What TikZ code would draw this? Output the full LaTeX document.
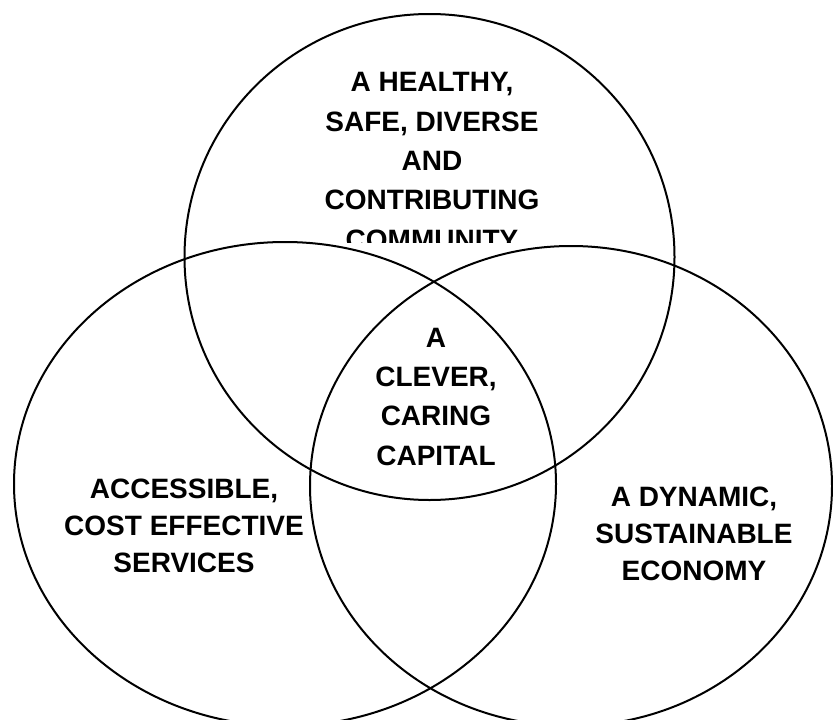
\documentclass[tikz,border=0pt]{standalone}
\usepackage{fontspec}
\setmainfont{Liberation Sans}
\begin{document}
\begin{tikzpicture}[x=1pt,y=-1pt,
  ring/.style={draw=black,line width=2pt},
  lbl/.style={font=\fontsize{28}{39.3}\selectfont\bfseries,align=center,inner sep=0pt,anchor=base},
  lblside/.style={lbl,font=\fontsize{28}{37}\selectfont\bfseries}]
\useasboundingbox[fill=white] (0,0) rectangle (833,720);
\draw[ring] (429.5,257) ellipse [x radius=245pt, y radius=243pt];
\draw[ring] (285,484) ellipse [x radius=271pt, y radius=242pt];
\draw[ring] (571,486) ellipse [x radius=261pt, y radius=240pt];
\begin{scope}
\clip (0,0) rectangle (833,242);
\node[lbl] (top) at (432,249) {A HEALTHY,\\SAFE, DIVERSE\\AND\\CONTRIBUTING\\COMMUNITY};
\end{scope}
\node[lbl] (mid) at (436,465) {A\\CLEVER,\\CARING\\CAPITAL};
\node[lblside] (left) at (184,572) {ACCESSIBLE,\\COST EFFECTIVE\\SERVICES};
\node[lblside] (right) at (694,580) {A DYNAMIC,\\SUSTAINABLE\\ECONOMY};
\end{tikzpicture}
\end{document}
